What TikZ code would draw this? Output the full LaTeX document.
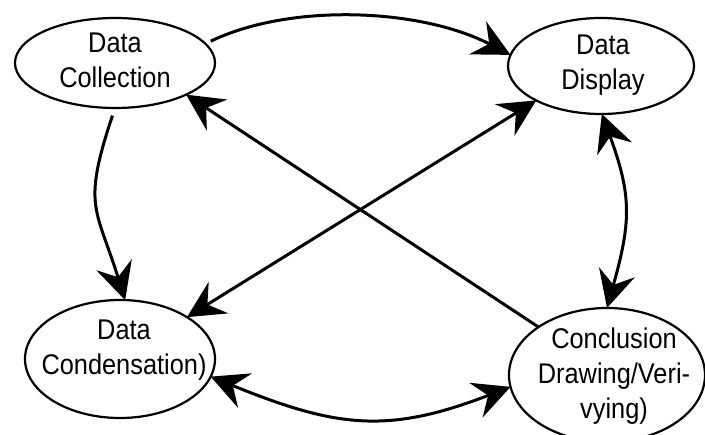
\documentclass[tikz,border=0pt]{standalone}
\usepackage{fontspec}
\setmainfont{Liberation Sans}[FakeStretch=0.89]
\usetikzlibrary{shapes.geometric,arrows.meta}
\begin{document}
\begin{tikzpicture}[x=1pt,y=-1pt,
  bubble/.style={ellipse,draw,line width=2.2pt,inner sep=0pt,outer sep=0pt},
  label/.style={anchor=north,inner sep=0pt,align=center,font=\fontsize{28.5}{35}\selectfont},
  conn/.style={line width=3pt},
  head/.style={-{Stealth[length=37pt,width=37pt,inset=13pt]}},
  heads/.style={{Stealth[length=37pt,width=37pt,inset=13pt]}-{Stealth[length=37pt,width=37pt,inset=13pt]}}]
\useasboundingbox (0,0) rectangle (705,435);
% ellipses
\node[bubble,minimum width=200pt,minimum height=90pt] (coll) at (115,63) {};
\node[bubble,minimum width=186pt,minimum height=96pt] (disp) at (601,66) {};
\node[bubble,minimum width=190pt,minimum height=118pt] (cond) at (120,359) {};
\node[bubble,minimum width=196pt,minimum height=134pt] (conc) at (607,375) {};
% texts
\node[label] (collt) at (115,33) {Data\\Collection};
\node[label] (dispt) at (603,35) {Data\\Display};
\node[label] (condt) at (124,320) {Data\\Condensation)};
\node[label] (conct) at (614,328) {Conclusion\\Drawing/Veri-\\vying)};
% curved connectors
\draw[conn,head,shorten <=6pt] (coll.12) .. controls (290,3) and (420,8) .. (disp.173);
\draw[conn,head,shorten <=8pt] (coll.-90) .. controls (82,207) and (96,207) .. (cond.85);
\draw[conn,heads] (disp.-89) .. controls (632,196) and (631,222) .. (conc.90);
\draw[conn,heads] (cond.-11.7) .. controls (337,428) and (388,434) .. (conc.187);
% straight connectors
\draw[conn,head] (conc.145.6) -- (coll.-24);
\draw[conn,heads] (disp.208.6) -- (cond.32);
\end{tikzpicture}
\end{document}
